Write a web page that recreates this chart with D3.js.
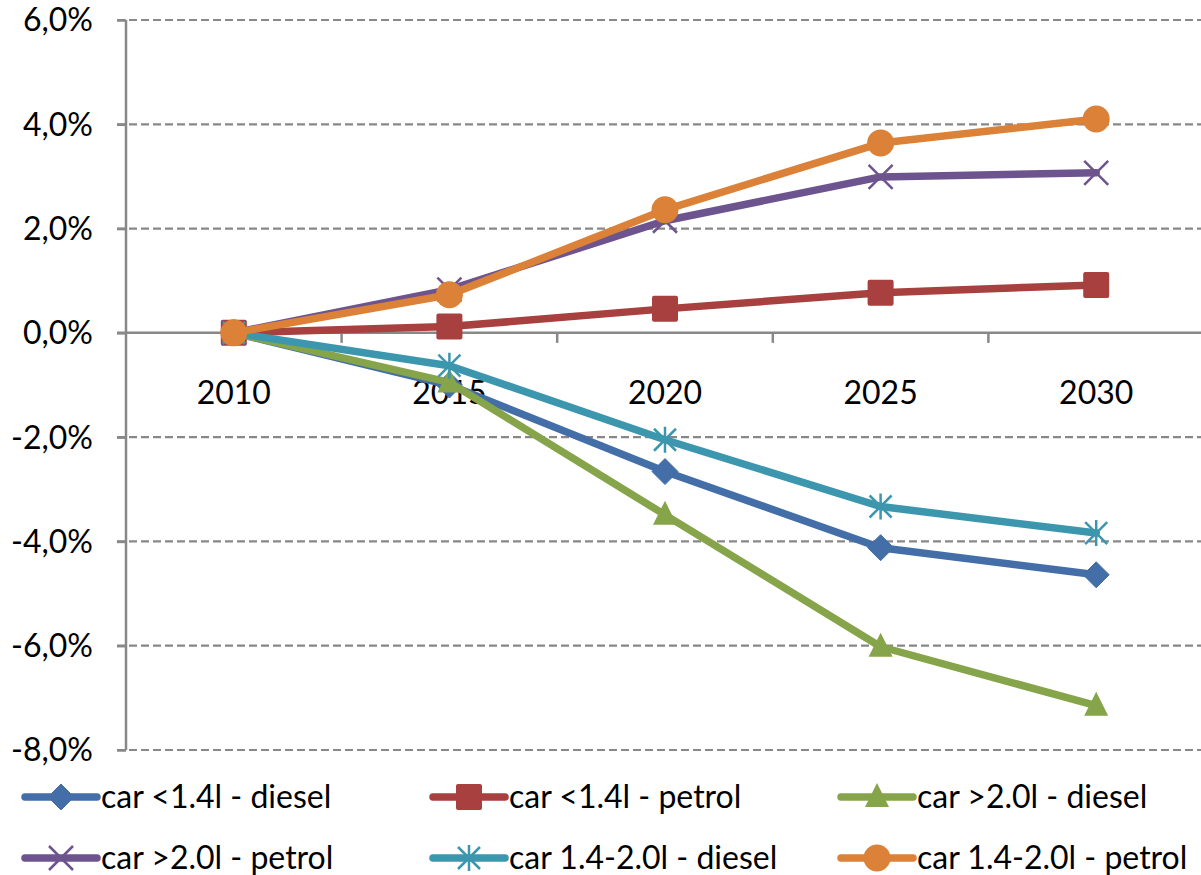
<!DOCTYPE html>
<html>
<head>
<meta charset="utf-8">
<script src="https://cdn.jsdelivr.net/npm/d3@7"></script>
<style>
  html, body { margin: 0; padding: 0; background: #fff; }
  svg { display: block; font-family: Lato, "Open Sans", sans-serif; }
</style>
</head>
<body>
<svg id="chart" width="1201" height="875"></svg>
<script>
// Change relative to 2010, in percent
const years = ["2010", "2015", "2020", "2025", "2030"];
const yTicks = [-8, -6, -4, -2, 0, 2, 4, 6];

const seriesNames = [
  "car <1.4l - diesel",
  "car <1.4l - petrol",
  "car >2.0l - diesel",
  "car >2.0l - petrol",
  "car 1.4-2.0l - diesel",
  "car 1.4-2.0l - petrol"
];
const diesel14 = [0, -1.0, -2.66, -4.12, -4.64];
const petrol14 = [0, 0.12, 0.46, 0.77, 0.92];
const diesel20 = [0, -0.95, -3.49, -6.02, -7.15];
const petrol20 = [0, 0.83, 2.15, 2.99, 3.07];
const diesel1420 = [0, -0.63, -2.05, -3.33, -3.84];
const petrol1420 = [0, 0.73, 2.36, 3.64, 4.1];

const seriesValues = [diesel14, petrol14, diesel20, petrol20, diesel1420, petrol1420];
const colors = ["#436ea8", "#a7403e", "#86a44a", "#6e548e", "#3c97ae", "#db8138"];
const markers = ["diamond", "square", "triangle", "cross", "star", "circle"];

const svg = d3.select("#chart");
const plotLeft = 126, plotRight = 1204, plotTop = 20, plotBottom = 750;
const fontSize = 32;

const x = d3.scaleBand().domain(years).range([plotLeft, plotRight]);
const y = d3.scaleLinear().domain([-8, 6]).range([plotBottom, plotTop]);
const cx = d => x(d) + x.bandwidth() / 2;

const axisColor = "#888888";

// horizontal gridlines (dashed), except zero which is the category axis
svg.append("g").selectAll("line")
  .data(yTicks.filter(t => t !== 0))
  .join("line")
  .attr("x1", plotLeft - 9).attr("x2", 1201)
  .attr("y1", d => y(d)).attr("y2", d => y(d))
  .attr("stroke", axisColor).attr("stroke-width", 2.2)
  .attr("stroke-dasharray", "8,4");

// value axis, percent with comma decimal and plain hyphen for negatives
const pct = d => (d < 0 ? "-" : "") + d3.format(".1f")(Math.abs(d)).replace(".", ",") + "%";
const yAxis = d3.axisLeft(y).tickValues(yTicks).tickSize(9).tickPadding(24).tickFormat(pct);
const gy = svg.append("g").attr("transform", `translate(${plotLeft},0)`).call(yAxis);
gy.select(".domain").attr("stroke", axisColor).attr("stroke-width", 2.5)
  .attr("d", `M0,${plotTop}V${plotBottom}`);
gy.selectAll(".tick line").attr("stroke", axisColor).attr("stroke-width", 2.5);
gy.selectAll(".tick text").attr("fill", "#000").attr("font-size", fontSize)
  .attr("font-family", "Lato, sans-serif").attr("dy", "0.34em");

// category axis crossing at zero
const xAxis = d3.axisBottom(x).tickSize(0).tickPadding(48);
const gx = svg.append("g").attr("transform", `translate(0,${y(0)})`).call(xAxis);
gx.select(".domain").attr("stroke", axisColor).attr("stroke-width", 2.5)
  .attr("d", `M${plotLeft - 9},0H1201`);
gx.selectAll(".tick text").attr("fill", "#000").attr("font-size", fontSize)
  .attr("font-family", "Lato, sans-serif");
// tick marks between categories
svg.append("g").selectAll("line")
  .data(years)
  .join("line")
  .attr("x1", d => x(d) + x.bandwidth())
  .attr("x2", d => x(d) + x.bandwidth())
  .attr("y1", y(0)).attr("y2", y(0) + 10)
  .attr("stroke", axisColor).attr("stroke-width", 2.5);

function drawMarker(g, type, color, px, py) {
  if (type === "diamond") {
    g.append("path").attr("d", `M${px},${py - 13}L${px + 13},${py}L${px},${py + 13}L${px - 13},${py}Z`)
      .attr("fill", color).attr("stroke", color).attr("stroke-width", 1).attr("stroke-linejoin", "round");
  } else if (type === "square") {
    g.append("rect").attr("x", px - 13).attr("y", py - 13).attr("width", 26).attr("height", 26)
      .attr("rx", 2).attr("fill", color);
  } else if (type === "triangle") {
    g.append("path").attr("d", `M${px},${py - 14}L${px + 12},${py + 10}L${px - 12},${py + 10}Z`)
      .attr("fill", color);
  } else if (type === "circle") {
    g.append("circle").attr("cx", px).attr("cy", py).attr("r", 13.5).attr("fill", color);
  } else if (type === "cross") {
    g.append("path").attr("d", `M${px - 12},${py - 12}L${px + 12},${py + 12}M${px + 12},${py - 12}L${px - 12},${py + 12}`)
      .attr("stroke", color).attr("stroke-width", 2.5).attr("fill", "none");
  } else if (type === "star") {
    g.append("path").attr("d",
      `M${px - 11},${py - 11}L${px + 11},${py + 11}M${px + 11},${py - 11}L${px - 11},${py + 11}M${px},${py - 13}V${py + 13}`)
      .attr("stroke", color).attr("stroke-width", 2.5).attr("fill", "none");
  }
}

const line = d3.line().x((d, i) => cx(years[i])).y(d => y(d));

seriesValues.forEach((vals, s) => {
  const g = svg.append("g");
  g.append("path").datum(vals).attr("d", line)
    .attr("fill", "none").attr("stroke", colors[s]).attr("stroke-width", 7.5)
    .attr("stroke-linejoin", "round").attr("stroke-linecap", "round");
  vals.forEach((v, i) => drawMarker(g, markers[s], colors[s], cx(years[i]), y(v)));
});

// legend
const legendCols = [25, 433, 841];
const legendRows = [797, 858];
seriesNames.forEach((name, s) => {
  const lx = legendCols[s % 3], ly = legendRows[Math.floor(s / 3)];
  const g = svg.append("g");
  g.append("line").attr("x1", lx).attr("x2", lx + 72).attr("y1", ly).attr("y2", ly)
    .attr("stroke", colors[s]).attr("stroke-width", 7.5).attr("stroke-linecap", "round");
  drawMarker(g, markers[s], colors[s], lx + 36, ly);
  g.append("text").attr("x", lx + 76).attr("y", ly).attr("dy", "0.35em")
    .attr("font-size", fontSize).attr("fill", "#000").text(name);
});
</script>
</body>
</html>
